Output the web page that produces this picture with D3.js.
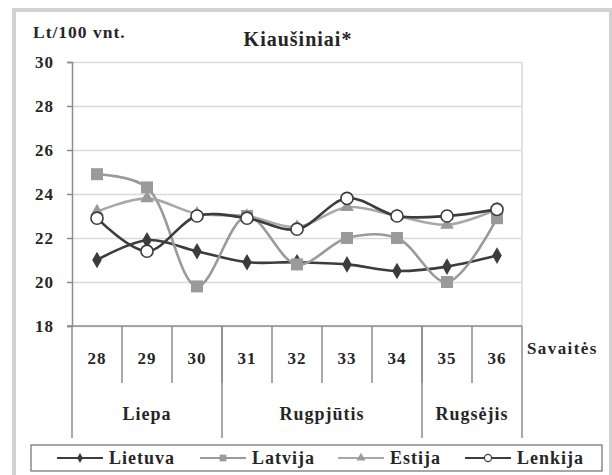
<!DOCTYPE html>
<html>
<head>
<meta charset="utf-8">
<script src="https://cdn.jsdelivr.net/npm/d3@7"></script>
<style>
  body { margin: 0; background: #fff; }
  text { font-family: "Liberation Serif", serif; font-weight: bold; fill: #262626; letter-spacing: 1px; }
</style>
</head>
<body>
<div id="chart"></div>
<script>
var weeks = ["28", "29", "30", "31", "32", "33", "34", "35", "36"];
var months = ["Liepa", "Rugpjūtis", "Rugsėjis"];
var monthFirst = ["28", "31", "35"];
var monthLast = ["30", "34", "36"];
var yTicks = [18, 20, 22, 24, 26, 28, 30];

var lietuva = [21.0, 21.9, 21.4, 20.9, 20.9, 20.8, 20.5, 20.7, 21.2];
var latvija = [24.9, 24.3, 19.8, 23.0, 20.8, 22.0, 22.0, 20.0, 22.9];
var estija  = [23.2, 23.8, 23.1, 23.0, 22.5, 23.4, 23.0, 22.6, 23.3];
var lenkija = [22.9, 21.4, 23.0, 22.9, 22.4, 23.8, 23.0, 23.0, 23.3];

var width = 612, height = 475;
var plot_left = 72, plot_right = 522, plot_top = 62, plot_bottom = 326;

var svg = d3.select("#chart").append("svg")
    .attr("width", width)
    .attr("height", height);

// outer frame
svg.append("rect")
    .attr("x", 14).attr("y", 10)
    .attr("width", 597).attr("height", 500)
    .attr("fill", "#fff")
    .attr("stroke", "#d2d2d2")
    .attr("stroke-width", 4);

var x = d3.scaleBand().domain(weeks).range([plot_left, plot_right]);
var y = d3.scaleLinear().domain([18, 30]).range([plot_bottom, plot_top]);

// gridlines
var grid = svg.append("g")
    .attr("transform", "translate(" + plot_left + ",0)")
    .call(d3.axisLeft(y).tickValues(yTicks).tickSize(-(plot_right - plot_left)).tickFormat(""));
grid.select(".domain").remove();
grid.selectAll("line").attr("stroke", "#d9d9d9").attr("stroke-width", 1.5);

// plot right border
svg.append("line")
    .attr("x1", plot_right).attr("x2", plot_right)
    .attr("y1", plot_top).attr("y2", plot_bottom)
    .attr("stroke", "#d9d9d9").attr("stroke-width", 1.5);

// y axis
var yAxis = svg.append("g")
    .attr("transform", "translate(" + plot_left + ",0)")
    .call(d3.axisLeft(y).tickValues(yTicks).tickSize(5).tickPadding(13));
yAxis.select(".domain").attr("stroke", "#8c8c8c").attr("stroke-width", 1.5);
yAxis.selectAll("line").attr("stroke", "#8c8c8c").attr("stroke-width", 1.5);
yAxis.selectAll("text")
    .style("font-family", "Liberation Serif")
    .style("font-weight", "bold")
    .style("font-size", "17px")
    .attr("fill", "#262626");

// x axis line
svg.append("line")
    .attr("x1", plot_left - 5).attr("x2", plot_right)
    .attr("y1", plot_bottom).attr("y2", plot_bottom)
    .attr("stroke", "#8c8c8c").attr("stroke-width", 1.5);

// week and month dividers
var monthEdges = [plot_left].concat(monthLast.map(function(w){ return x(w) + x.bandwidth(); }));
var weekEdges = weeks.slice(1).map(function(w){ return x(w); });
svg.selectAll(".wdiv").data(weekEdges).enter().append("line")
    .attr("x1", function(d){ return d; }).attr("x2", function(d){ return d; })
    .attr("y1", plot_bottom).attr("y2", 383)
    .attr("stroke", "#8c8c8c").attr("stroke-width", 1.5);
svg.selectAll(".mdiv").data(monthEdges).enter().append("line")
    .attr("x1", function(d){ return d; }).attr("x2", function(d){ return d; })
    .attr("y1", plot_bottom).attr("y2", 438)
    .attr("stroke", "#8c8c8c").attr("stroke-width", 1.5);

// week labels
var xAxis = svg.append("g")
    .attr("transform", "translate(0," + plot_bottom + ")")
    .call(d3.axisBottom(x).tickSize(0).tickPadding(26));
xAxis.select(".domain").remove();
xAxis.selectAll("text")
    .style("font-family", "Liberation Serif")
    .style("font-weight", "bold")
    .style("font-size", "17px")
    .attr("fill", "#262626");

// month labels
svg.selectAll(".month").data(months).enter().append("text")
    .attr("x", function(d, i){ return (x(monthFirst[i]) + x(monthLast[i]) + x.bandwidth()) / 2; })
    .attr("y", 414)
    .attr("dy", "0.35em")
    .attr("text-anchor", "middle")
    .style("font-size", "18px")
    .text(function(d){ return d; });

svg.append("text")
    .attr("x", 527).attr("y", 348).attr("dy", "0.35em")
    .style("font-size", "17px")
    .style("letter-spacing", "1.4px")
    .text("Savaitės");

svg.append("text")
    .attr("x", 33).attr("y", 32).attr("dy", "0.35em")
    .style("font-size", "17.5px")
    .text("Lt/100 vnt.");

svg.append("text")
    .attr("x", 298).attr("y", 39).attr("dy", "0.35em")
    .attr("text-anchor", "middle")
    .style("font-size", "20px")
    .text("Kiaušiniai*");

// series
var dark = "#3c3c3c", gray = "#9a9a9a", light = "#a8a8a8";
var series = [
    { name: "Lietuva", values: lietuva, color: dark, marker: d3.symbolDiamond, size: 80, fill: dark },
    { name: "Latvija", values: latvija, color: gray, marker: d3.symbolSquare, size: 144, fill: gray },
    { name: "Estija", values: estija, color: light, marker: d3.symbolTriangle, size: 80, fill: gray },
    { name: "Lenkija", values: lenkija, color: dark, marker: d3.symbolCircle, size: 115, fill: "#fff" }
];

var line = d3.line()
    .x(function(d, i){ return x(weeks[i]) + x.bandwidth() / 2; })
    .y(function(d){ return y(d); })
    .curve(d3.curveCatmullRom.alpha(0.5));

series.forEach(function(s){
    svg.append("path")
        .attr("d", line(s.values))
        .attr("fill", "none")
        .attr("stroke", s.color)
        .attr("stroke-width", 2.6);
    svg.selectAll(null).data(s.values).enter().append("path")
        .attr("d", d3.symbol().type(s.marker).size(s.size))
        .attr("transform", function(d, i){
            return "translate(" + (x(weeks[i]) + x.bandwidth() / 2) + "," + y(d) + ")";
        })
        .attr("fill", s.fill)
        .attr("stroke", s.marker === d3.symbolCircle ? dark : "none")
        .attr("stroke-width", 1.6);
});

// legend
svg.append("rect")
    .attr("x", 31).attr("y", 445)
    .attr("width", 571).attr("height", 26)
    .attr("fill", "#fff")
    .attr("stroke", "#6e6e6e").attr("stroke-width", 1.2);

var legendX = [57, 200, 338, 465];
var legendSizes = [30, 45, 35, 40];
series.forEach(function(s, i){
    var lx = legendX[i], ly = 458;
    svg.append("line")
        .attr("x1", lx).attr("x2", lx + 46)
        .attr("y1", ly).attr("y2", ly)
        .attr("stroke", s.color).attr("stroke-width", 2);
    svg.append("path")
        .attr("d", d3.symbol().type(s.marker).size(legendSizes[i]))
        .attr("transform", "translate(" + (lx + 23) + "," + ly + ")")
        .attr("fill", s.fill)
        .attr("stroke", s.marker === d3.symbolCircle ? dark : "none")
        .attr("stroke-width", 1.2);
    svg.append("text")
        .attr("x", lx + 52).attr("y", ly).attr("dy", "0.35em")
        .style("font-size", "18px")
        .text(s.name);
});
</script>
</body>
</html>
